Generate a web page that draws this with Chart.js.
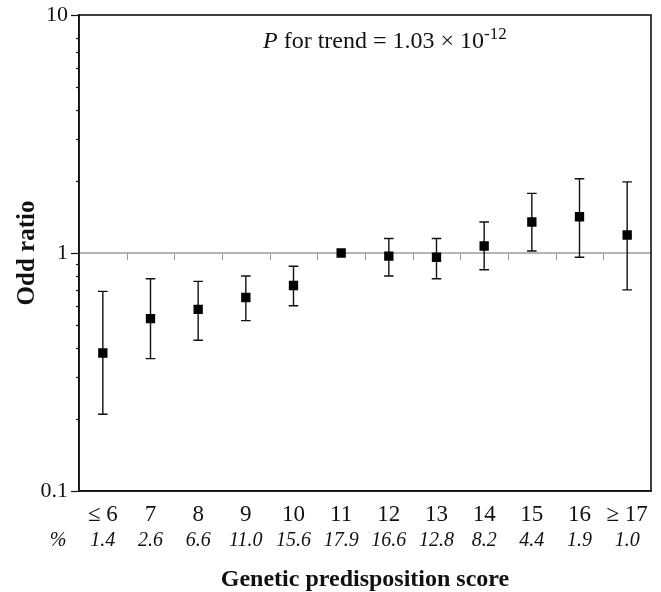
<!DOCTYPE html>
<html>
<head>
<meta charset="utf-8">
<style>
  html, body { margin: 0; padding: 0; background: #fff; }
  #wrap { width: 661px; height: 592px; }
</style>
<script src="https://cdn.jsdelivr.net/npm/chart.js@4/dist/chart.umd.min.js"></script>
</head>
<body>
<div id="wrap"><canvas id="chart" width="661" height="592"></canvas></div>
<script>
const scores = ["≤ 6", "7", "8", "9", "10", "11", "12", "13", "14", "15", "16", "≥ 17"];
const percents = ["1.4", "2.6", "6.6", "11.0", "15.6", "17.9", "16.6", "12.8", "8.2", "4.4", "1.9", "1.0"];
const oddRatio = [0.38, 0.53, 0.58, 0.65, 0.73, 1.0, 0.97, 0.96, 1.07, 1.35, 1.42, 1.19];
const ciLower = [0.21, 0.36, 0.43, 0.52, 0.60, null, 0.80, 0.78, 0.85, 1.02, 0.96, 0.70];
const ciUpper = [0.69, 0.78, 0.76, 0.80, 0.88, null, 1.15, 1.15, 1.35, 1.78, 2.05, 1.99];
const yTicks = [0.1, 0.2, 0.3, 0.4, 0.5, 0.6, 0.7, 0.8, 0.9, 1, 2, 3, 4, 5, 6, 7, 8, 10];
const yMajor = [0.1, 1, 10];

const serif = "'Liberation Serif', 'Times New Roman', serif";
const ink = "#111";

// error bars, reference line at 1 and the frame
const decorations = {
  id: "decorations",
  beforeDatasetsDraw(chart) {
    const { ctx, chartArea: a, scales: { x, y } } = chart;
    const y1 = y.getPixelForValue(1);
    ctx.save();
    // line at OR = 1
    ctx.strokeStyle = "#6a6a6a";
    ctx.lineWidth = 1;
    ctx.beginPath();
    ctx.moveTo(a.left, y1);
    ctx.lineTo(a.right, y1);
    ctx.stroke();
    // little ticks between the categories, under the line
    ctx.strokeStyle = "#9a9a9a";
    for (let i = 0; i < scores.length - 1; i++) {
      const px = Math.round((x.getPixelForValue(i) + x.getPixelForValue(i + 1)) / 2) + 0.5;
      ctx.beginPath();
      ctx.moveTo(px, y1);
      ctx.lineTo(px, y1 + 7);
      ctx.stroke();
    }
    // confidence intervals
    ctx.strokeStyle = "#111";
    ctx.lineWidth = 1.4;
    for (let i = 0; i < scores.length; i++) {
      if (ciLower[i] == null) continue;
      const px = x.getPixelForValue(i);
      const lo = y.getPixelForValue(ciLower[i]);
      const hi = y.getPixelForValue(ciUpper[i]);
      ctx.beginPath();
      ctx.moveTo(px, lo);
      ctx.lineTo(px, hi);
      ctx.moveTo(px - 4.8, lo);
      ctx.lineTo(px + 4.8, lo);
      ctx.moveTo(px - 4.8, hi);
      ctx.lineTo(px + 4.8, hi);
      ctx.stroke();
    }
    ctx.restore();
  },
  afterDraw(chart) {
    const { ctx, chartArea: a, scales: { y } } = chart;
    ctx.save();
    ctx.strokeStyle = ink;
    ctx.lineWidth = 1.6;
    ctx.strokeRect(a.left, a.top, a.right - a.left, a.bottom - a.top);
    // y ticks, outward
    ctx.lineWidth = 1.2;
    yTicks.forEach(v => {
      const py = Math.round(y.getPixelForValue(v)) + 0.5;
      const len = yMajor.includes(v) ? 8 : 3;
      ctx.beginPath();
      ctx.moveTo(a.left - len, py);
      ctx.lineTo(a.left, py);
      ctx.stroke();
    });
    // "%" in front of the percent row
    ctx.fillStyle = ink;
    ctx.font = "italic 20px " + serif;
    ctx.textAlign = "center";
    ctx.textBaseline = "middle";
    ctx.fillText("%", 58, chart.scales.x2.top + 20);
    // P for trend
    ctx.textAlign = "left";
    ctx.textBaseline = "alphabetic";
    let tx = a.left + 184;
    const ty = a.top + 33;
    ctx.font = "italic 24px " + serif;
    ctx.fillText("P", tx, ty);
    tx += ctx.measureText("P").width;
    ctx.font = "24px " + serif;
    const main = " for trend = 1.03 × 10";
    ctx.fillText(main, tx, ty);
    tx += ctx.measureText(main).width;
    ctx.font = "17px " + serif;
    ctx.fillText("-12", tx, ty - 9);
    ctx.restore();
  }
};

new Chart(document.getElementById("chart"), {
  type: "line",
  data: {
    labels: scores,
    datasets: [{
      label: "Odd ratio",
      data: oddRatio,
      showLine: false,
      pointStyle: "rect",
      pointRadius: 6.6,
      pointHoverRadius: 6.6,
      pointBackgroundColor: "#000",
      pointBorderWidth: 0,
      borderColor: "#000"
    }]
  },
  options: {
    responsive: false,
    animation: false,
    layout: { padding: { left: 0, right: 10, top: 15, bottom: 0 } },
    plugins: { legend: { display: false }, tooltip: { enabled: false } },
    scales: {
      x: {
        type: "category",
        offset: true,
        grid: { display: false, drawTicks: false },
        border: { display: true, color: ink, width: 1.6 },
        ticks: { color: ink, padding: 12, font: { family: serif, size: 23, lineHeight: 1 }, autoSkip: false, maxRotation: 0 },
        afterFit(s) { s.height = 30; }
      },
      x2: {
        type: "category",
        position: "bottom",
        weight: 1,
        labels: percents,
        offset: true,
        grid: { display: false, drawTicks: false },
        border: { display: false },
        ticks: { color: ink, padding: 10, font: { family: serif, size: 20, style: "italic", lineHeight: 1 }, autoSkip: false, maxRotation: 0 },
        title: {
          display: true,
          text: "Genetic predisposition score",
          color: ink,
          font: { family: serif, size: 24, weight: "bold", lineHeight: 1 },
          padding: { top: 0, bottom: 0 }
        },
        afterFit(s) { s.height = 71; }
      },
      y: {
        type: "logarithmic",
        min: 0.1,
        max: 10,
        grid: { display: false, drawTicks: false },
        border: { display: true, color: ink, width: 1.6 },
        afterBuildTicks(s) { s.ticks = yTicks.map(v => ({ value: v, major: yMajor.includes(v) })); },
        ticks: {
          color: ink,
          padding: 11,
          autoSkip: false,
          font: { family: serif, size: 22 },
          callback: v => yMajor.includes(v) ? String(v) : ""
        },
        title: {
          display: true,
          text: "Odd ratio",
          color: ink,
          font: { family: serif, size: 25, weight: "bold", lineHeight: 1 },
          padding: { top: 15.5, bottom: 0 }
        },
        afterFit(s) {
          s.width = 79;
          s.paddingTop = 0;
          s.paddingBottom = 0;
        }
      }
    }
  },
  plugins: [decorations]
});
</script>
</body>
</html>
